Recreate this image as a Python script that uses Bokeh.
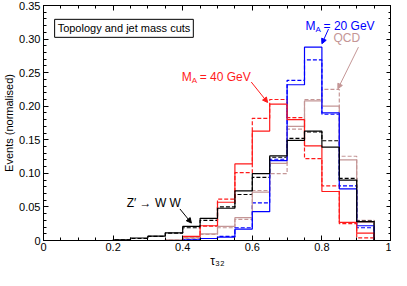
from bokeh.plotting import figure
from bokeh.models import (Range1d, LinearAxis, FixedTicker, CustomJSTickFormatter,
                          Label, Arrow, NormalHead)
from bokeh.embed import file_html
from bokeh.resources import INLINE

# ---- data: 20 bins of tau32 from 0 to 1 ----
bin_edges = [0.0, 0.05, 0.10, 0.15, 0.20, 0.25, 0.30, 0.35, 0.40, 0.45, 0.50,
             0.55, 0.60, 0.65, 0.70, 0.75, 0.80, 0.85, 0.90, 0.95, 1.0]

zww_solid = [0, 0, 0, 0, 0.001, 0.0037, 0.0065, 0.0115, 0.021, 0.033, 0.048,
             0.074, 0.0995, 0.126, 0.149, 0.163, 0.139, 0.090, 0.028, 0]
zww_dashed = [0, 0, 0, 0, 0.001, 0.003, 0.006, 0.011, 0.019, 0.030, 0.050,
              0.0685, 0.094, 0.124, 0.152, 0.1616, 0.1486, 0.0926, 0.029, 0]

ma40_solid = [0, 0, 0, 0, 0, 0, 0, 0, 0.006, 0.022, 0.057,
              0.114, 0.163, 0.203, 0.180, 0.141, 0.073, 0.027, 0.011, 0]
ma40_dashed = [0, 0, 0, 0, 0, 0, 0, 0, 0.005, 0.0215, 0.0615,
               0.101, 0.182, 0.210, 0.183, 0.122, 0.0815, 0.025, 0.004, 0]

ma20_solid = [0, 0, 0, 0, 0, 0, 0, 0, 0.001, 0.003, 0.005,
              0.017, 0.043, 0.119, 0.232, 0.288, 0.190, 0.077, 0.022, 0]
ma20_dashed = [0, 0, 0, 0, 0, 0, 0, 0, 0.001, 0.003, 0.006,
               0.019, 0.056, 0.121, 0.2385, 0.269, 0.188, 0.0815, 0.019, 0]

qcd_solid = [0, 0, 0, 0, 0, 0, 0, 0.001, 0.004, 0.010, 0.021,
             0.034, 0.072, 0.115, 0.170, 0.208, 0.200, 0.120, 0.027, 0]
qcd_dashed = [0, 0, 0, 0, 0, 0, 0, 0.001, 0.003, 0.009, 0.019,
              0.0315, 0.0745, 0.0995, 0.166, 0.210, 0.225, 0.1255, 0.030, 0]

x_ticks = [0, 0.2, 0.4, 0.6, 0.8, 1.0]
x_minor = [0.05, 0.1, 0.15, 0.25, 0.3, 0.35, 0.45, 0.5, 0.55, 0.65, 0.7, 0.75, 0.85, 0.9, 0.95]
y_ticks = [0, 0.05, 0.10, 0.15, 0.20, 0.25, 0.30, 0.35]
y_minor = [0.01, 0.02, 0.03, 0.04, 0.06, 0.07, 0.08, 0.09, 0.11, 0.12, 0.13, 0.14,
           0.16, 0.17, 0.18, 0.19, 0.21, 0.22, 0.23, 0.24, 0.26, 0.27, 0.28, 0.29,
           0.31, 0.32, 0.33, 0.34]

BLACK = "#000000"
RED = "#ff1a1a"
BLUE = "#0000ff"
QCD = "#c49696"
FONT = "Liberation Sans"

p = figure(width=391, height=270, x_range=Range1d(0, 1), y_range=Range1d(0, 0.35),
           output_backend="svg", toolbar_location=None,
           min_border_left=0, min_border_right=0, min_border_top=5, min_border_bottom=0,
           background_fill_color="white", border_fill_color="white")
p.grid.visible = False
p.outline_line_color = "black"

xt = FixedTicker(ticks=x_ticks, minor_ticks=x_minor)
yt = FixedTicker(ticks=y_ticks, minor_ticks=y_minor)

def style_axis(ax):
    ax.major_tick_in = 5
    ax.major_tick_out = 0
    ax.minor_tick_in = 3
    ax.minor_tick_out = 0
    ax.axis_line_color = "black"
    ax.major_tick_line_color = "black"
    ax.minor_tick_line_color = "black"
    ax.major_label_text_font = FONT
    ax.major_label_text_font_size = "11px"
    ax.major_label_text_color = "black"
    ax.axis_label_text_font = FONT
    ax.axis_label_text_font_size = "11px"
    ax.axis_label_text_font_style = "normal"
    ax.axis_label_text_color = "black"

xa = p.xaxis[0]
xa.ticker = xt
xa.formatter = CustomJSTickFormatter(
    code="return (Math.abs(tick) < 1e-9 || Math.abs(tick - 1) < 1e-9) ? tick.toFixed(0) : tick.toFixed(1);")
xa.axis_label = "τ₃₂"
style_axis(xa)
xa.major_label_standoff = 2
xa.axis_label_standoff = 0
xa.axis_label_text_font_size = "12px"

ya = p.yaxis[0]
ya.ticker = yt
ya.formatter = CustomJSTickFormatter(
    code="return Math.abs(tick) < 1e-9 ? '0' : tick.toFixed(2);")
ya.axis_label = "Events (normalised)"
style_axis(ya)
ya.major_label_standoff = 3
ya.axis_label_standoff = 1

empty = CustomJSTickFormatter(code="return '';")
top = LinearAxis(ticker=xt, formatter=empty, major_label_standoff=0)
style_axis(top)
top.major_label_text_font_size = "0px"
right = LinearAxis(ticker=yt, formatter=empty, major_label_standoff=0)
style_axis(right)
right.major_label_text_font_size = "0px"
p.add_layout(top, "above")
p.add_layout(right, "right")

def hist(vals, color, dashed):
    ys = list(vals) + [vals[-1]]
    kw = dict(line_color=color, line_width=1.2, mode="after")
    if dashed:
        kw["line_dash"] = "4 2"
    p.step(x=bin_edges, y=ys, **kw)

for vals, col in [(qcd_dashed, QCD), (ma20_dashed, BLUE), (ma40_dashed, RED), (zww_dashed, BLACK)]:
    hist(vals, col, True)
for vals, col in [(qcd_solid, QCD), (ma20_solid, BLUE), (ma40_solid, RED), (zww_solid, BLACK)]:
    hist(vals, col, False)

def label(x, y, text, color, size="12px", xo=0, yo=0, **kw):
    lab = Label(x=x, y=y, text=text, text_color=color, text_font=FONT,
                text_font_size=size, x_offset=xo, y_offset=yo,
                text_baseline="alphabetic", **kw)
    p.add_layout(lab)
    return lab

# box label
label(0.032, 0.316, "Topology and jet mass cuts", BLACK, size="11px",
      border_line_color="black", border_line_width=1, background_fill_color="white",
      padding=3)

def mass_label(x, y, mass, color):
    label(x, y, "M", color)
    label(x, y, "A", color, size="8px", xo=10, yo=-3)
    label(x, y, "= " + mass + " GeV", color, xo=18)

mass_label(0.397, 0.243, "40", RED)
mass_label(0.753, 0.319, "20", BLUE)
label(0.833, 0.301, "QCD", QCD)
label(0.239, 0.0556, "Z′ → W W", BLACK)

def arrow(x0, y0, x1, y1, color):
    p.add_layout(Arrow(end=NormalHead(size=5, fill_color=color, line_color=color, line_width=1),
                       x_start=x0, y_start=y0, x_end=x1, y_end=y1,
                       line_color=color, line_width=1))

arrow(0.597, 0.236, 0.644, 0.2056, RED)
arrow(0.819, 0.315, 0.800, 0.293, BLUE)
arrow(0.905, 0.288, 0.846, 0.226, QCD)
arrow(0.392, 0.047, 0.425, 0.026, BLACK)

open("out.html", "w").write(file_html(p, INLINE))
